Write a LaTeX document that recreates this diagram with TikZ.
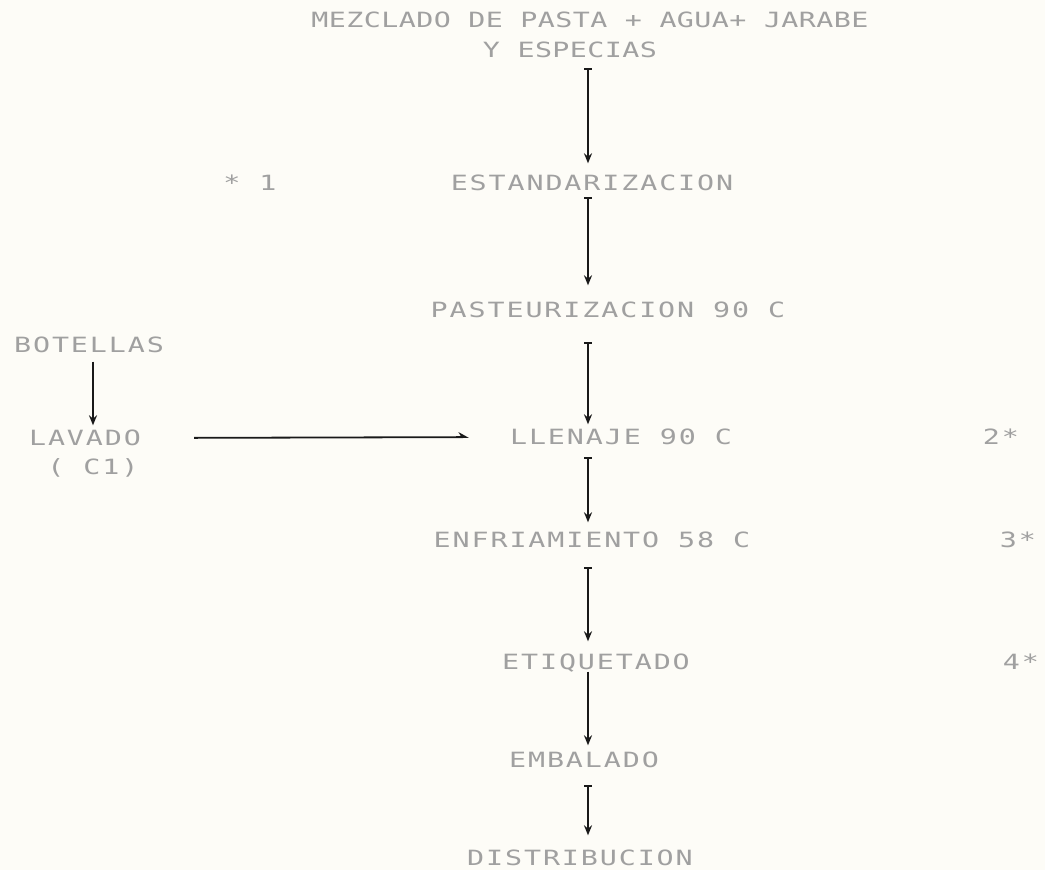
\documentclass[tikz,border=0pt]{standalone}
\usepackage{fontspec}
\usepackage{tikz}
\usepackage{xcolor}
\usetikzlibrary{arrows.meta}
\newfontfamily\matriz[FakeStretch=1.35,LetterSpace=9]{DejaVu Sans Mono}
\newfontfamily\matrizt[FakeStretch=1.35,LetterSpace=2]{DejaVu Sans Mono}
\definecolor{tinta}{RGB}{160,160,160}
\definecolor{papel}{RGB}{253,252,247}
\tikzset{
  paso/.style = {inner sep=0pt, text height=15pt, text depth=0pt,
    text=tinta, font=\fontsize{21}{25}\matriz},% etapa del proceso
  titulo/.style = {paso, font=\fontsize{21}{25}\matrizt},
  nota/.style = {paso},% marcas de control
  flecha/.style = {line width=2.2pt, black!90},
  tope/.style = {flecha, {Bar[width=8pt]}->}
}

\begin{document}
\begin{tikzpicture}[x=1pt, y=-1pt, ->, >={Stealth[length=10pt,width=8pt]}]
\fill[papel] (0,0) rectangle (1045,870);
\coordinate (eje) at (588,0);
\node [titulo] (mezcla) at (590,20) {MEZCLADO DE PASTA + AGUA+ JARABE};
\node [titulo] (especias) at (570,50) {Y ESPECIAS};
\node [nota] (n1) at (250,183) {* 1};
\node [paso] (estand) at (592,183) {ESTANDARIZACION};
\node [paso] (pasteur) at (608,310) {PASTEURIZACION 90 C};
\node [paso] (botellas) at (89,345) {BOTELLAS};
\node [paso] (lavado) at (85,438) {LAVADO};
\node [paso] (c1) at (93,467) {( C1)};
\node [paso] (llenaje) at (621,437) {LLENAJE 90 C};
\node [nota] (n2) at (1001,437) {2*};
\node [paso] (enfria) at (592,540) {ENFRIAMIENTO 58 C};
\node [nota] (n3) at (1018,540) {3*};
\node [paso] (etiqueta) at (596,662) {ETIQUETADO};
\node [nota] (n4) at (1021,662) {4*};
\node [paso] (embala) at (584,760) {EMBALADO};
\node [paso] (distrib) at (580,858) {DISTRIBUCION};

\draw [tope, shorten <=10pt, shorten >=12pt] (especias.south -| eje) -- (estand.north -| eje);
\draw [tope, shorten <=6pt, shorten >=17pt] (estand.south -| eje) -- (pasteur.north -| eje);
\draw [tope, shorten <=24pt, shorten >=5pt] (pasteur.south -| eje) -- (llenaje.north -| eje);
\draw [tope, shorten <=12pt, shorten >=10pt] (llenaje.south -| eje) -- (enfria.north -| eje);
\draw [tope, shorten <=19pt, shorten >=13pt] (enfria.south -| eje) -- (etiqueta.north -| eje);
\draw [flecha, shorten <=2pt, shorten >=7pt] (etiqueta.south -| eje) -- (embala.north -| eje);
\draw [tope, shorten <=17pt, shorten >=15pt] (embala.south -| eje) -- (distrib.north -| eje);
\draw [flecha, shorten <=9pt, shorten >=5pt] (botellas.south -| c1) -- (lavado.north -| c1);
\draw [flecha, line width=1.8pt, -{Stealth[harpoon,length=9pt,width=10pt]},
  shorten <=53pt, shorten >=41pt] (lavado.east) -- (llenaje.west);
\end{tikzpicture}
\end{document}
